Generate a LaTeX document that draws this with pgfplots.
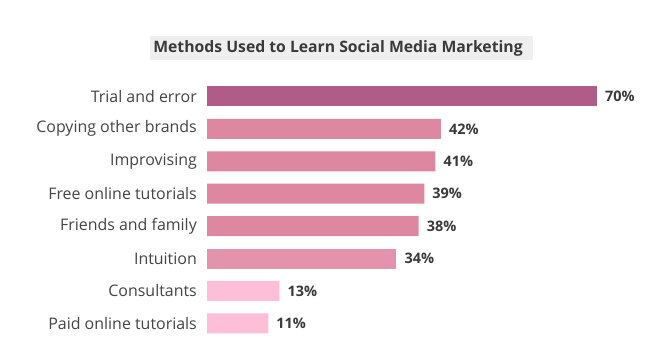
\documentclass[border=0pt]{standalone}
\usepackage{fontspec}
\setmainfont{Open Sans}
\usepackage{pgfplots}
\pgfplotsset{compat=1.18}
\definecolor{cTop}{HTML}{B05B88}
\definecolor{cMid}{HTML}{DE87A0}
\definecolor{cMid2}{HTML}{E393AC}
\definecolor{cLow}{HTML}{FDBED7}
\definecolor{txt}{HTML}{3A3A3A}
\definecolor{lbl}{HTML}{444444}
\definecolor{titlebg}{HTML}{EFEFEF}
\begin{document}
\begin{tikzpicture}
\useasboundingbox[fill=white] (0,0) rectangle (666bp,360bp);
\fill[titlebg] (150bp,300bp) rectangle (533bp,324bp);
\node[text=txt,font=\fontsize{15.8}{18}\selectfont\bfseries] at (338bp,312bp) {Methods Used to Learn Social Media Marketing};
\begin{axis}[
  at={(207bp,20.4bp)}, anchor=south west,
  scale only axis, width=390bp, height=259.4bp,
  xbar, bar width=20bp, bar shift=0pt,
  xmin=0, xmax=70, ymin=-0.5, ymax=7.5,
  y dir=reverse,
  axis line style={draw=none},
  xtick=\empty,
  ytick={0,...,7},
  yticklabels={Trial and error,Copying other brands,Improvising,Free online tutorials,Friends and family,Intuition,Consultants,Paid online tutorials},
  major tick length=0pt,
  yticklabel style={font=\fontsize{16}{18}\selectfont, text=lbl, inner sep=0pt, xshift=-10bp},
  /pgf/number format/assume math mode=true,
  nodes near coords={\pgfmathprintnumber{\pgfplotspointmeta}\%},
  nodes near coords style={font=\fontsize{14.5}{17}\selectfont\bfseries, text=txt, inner sep=0pt, xshift=8bp, anchor=west},
  every axis plot/.append style={draw=none},
  clip=false,
]
\addplot[fill=cTop] coordinates {(70,0)};
\addplot[fill=cMid] coordinates {(42,1) (41,2) (39,3) (38,4)};
\addplot[fill=cMid2] coordinates {(34,5)};
\addplot[fill=cLow] coordinates {(13,6) (11,7)};
\end{axis}
\end{tikzpicture}
\end{document}
